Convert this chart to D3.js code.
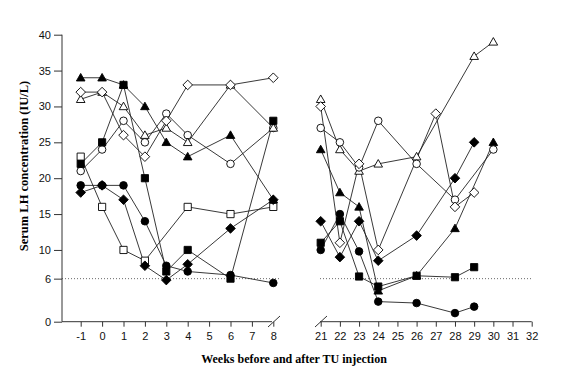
<!DOCTYPE html>
<html><head><meta charset="utf-8">
<script src="https://cdn.jsdelivr.net/npm/d3@7"></script>
<style>body{margin:0;background:#fff;}svg{display:block;}</style>
</head><body>
<svg id="c" width="567" height="375"></svg>
<script>
// ---- data ----
const leftTicks = [-1,0,1,2,3,4,5,6,7,8];
const rightTicks = [21,22,23,24,25,26,27,28,29,30,31,32];
const yTicks = [0,6,10,15,20,25,30,35,40];
const limitValue = 6;

// left panel (weeks -1..8)
const L_filledTriangle_w = [-1,0,1,2,3,4,6,8];
const L_filledTriangle_v = [34,34,33,30,25,23,26,17];
const L_openTriangle_w = [-1,0,1,2,3,4,6,8];
const L_openTriangle_v = [31,32,30,26,27,25,33,27];
const L_openDiamond_w = [-1,0,1,2,3,4,6,8];
const L_openDiamond_v = [32,32,26,23,28,33,33,34];
const L_openCircle_w = [-1,0,1,2,3,4,6,8];
const L_openCircle_v = [21,24,28,25,29,26,22,27];
const L_filledSquare_w = [-1,0,1,2,3,4,6,8];
const L_filledSquare_v = [22,25,33,20,7,10,6,28];
const L_openSquare_w = [-1,0,1,2,4,6,8];
const L_openSquare_v = [23,16,10,8.5,16,15,16];
const L_filledCircle_w = [-1,0,1,2,3,4,6,8];
const L_filledCircle_v = [19,19,19,14,7.8,7,6.5,5.4];
const L_filledDiamond_w = [-1,0,1,2,3,4,6,8];
const L_filledDiamond_v = [18,19,17,7.8,5.8,8,13,17];

// right panel (weeks 21..32)
const R_filledTriangle_w = [21,22,23,24,26,28,30];
const R_filledTriangle_v = [24,18,16,4.3,6.4,13,25];
const R_openTriangle_w = [21,22,23,24,26,29,30];
const R_openTriangle_v = [31,24,21,22,23,37,39];
const R_openDiamond_w = [21,22,23,24,27,28,29];
const R_openDiamond_v = [30,11,22,10,29,16,18];
const R_openCircle_w = [21,22,23,24,26,28,30];
const R_openCircle_v = [27,25,21.5,28,22,17,24];
const R_filledSquare_w = [21,22,23,24,26,28,29];
const R_filledSquare_v = [11,14,6.3,4.9,6.4,6.2,7.6];
const R_filledCircle_w = [21,22,23,24,26,28,29];
const R_filledCircle_v = [10,15,9.8,2.8,2.6,1.2,2.1];
const R_filledDiamond_w = [21,22,23,24,26,28,29];
const R_filledDiamond_v = [14,9,14,8.5,12,20,25];

const yLabel = "Serum LH concentration (IU/L)";
const xLabel = "Weeks before and after TU injection";

// ---- build ----
const svg = d3.select("#c");
const y = d3.scaleLinear().domain([0,40]).range([321.7,34.7]);
const xL = d3.scaleLinear().domain([-1,8]).range([80.7,273.3]);
const xR = d3.scaleLinear().domain([21,32]).range([320.7,531.7]);

const mk = (shape, filled, w, v) => ({shape, filled, pts: w.map((d,i)=>[d,v[i]])});
const leftSeries = [
  mk("circle",false,L_openCircle_w,L_openCircle_v),
  mk("triangle",false,L_openTriangle_w,L_openTriangle_v),
  mk("square",false,L_openSquare_w,L_openSquare_v),
  mk("triangle",true,L_filledTriangle_w,L_filledTriangle_v),
  mk("diamond",false,L_openDiamond_w,L_openDiamond_v),
  mk("circle",true,L_filledCircle_w,L_filledCircle_v),
  mk("diamond",true,L_filledDiamond_w,L_filledDiamond_v),
  mk("square",true,L_filledSquare_w,L_filledSquare_v)
];
const rightSeries = [
  mk("triangle",true,R_filledTriangle_w,R_filledTriangle_v),
  mk("triangle",false,R_openTriangle_w,R_openTriangle_v),
  mk("circle",false,R_openCircle_w,R_openCircle_v),
  mk("diamond",false,R_openDiamond_w,R_openDiamond_v),
  mk("circle",true,R_filledCircle_w,R_filledCircle_v),
  mk("diamond",true,R_filledDiamond_w,R_filledDiamond_v),
  mk("square",true,R_filledSquare_w,R_filledSquare_v)
];

function shapePath(s){
  if(s==="circle"){ const r=3.8; return `M${-r},0a${r},${r} 0 1,0 ${2*r},0a${r},${r} 0 1,0 ${-2*r},0Z`; }
  if(s==="square"){ const h=3.6; return `M${-h},${-h}H${h}V${h}H${-h}Z`; }
  if(s==="diamond"){ const h=4.8; return `M0,${-h}L${h},0L0,${h}L${-h},0Z`; }
  if(s==="triangle"){ const h=4.3; return `M0,${-h}L${h},${h*0.75}L${-h},${h*0.75}Z`; }
}

// dotted reference lines
svg.append("line").attr("x1",62).attr("x2",280).attr("y1",y(limitValue)).attr("y2",y(limitValue))
  .attr("stroke","#444").attr("stroke-width",0.8).attr("stroke-dasharray","1,2");
svg.append("line").attr("x1",320).attr("x2",532).attr("y1",y(limitValue)).attr("y2",y(limitValue))
  .attr("stroke","#444").attr("stroke-width",0.8).attr("stroke-dasharray","1,2");

function drawPanel(xs, series){
  const g = svg.append("g");
  const line = d3.line().x(d=>xs(d[0])).y(d=>y(d[1]));
  series.forEach(s=>{
    g.append("path").attr("d",line(s.pts)).attr("fill","none").attr("stroke","#222").attr("stroke-width",0.9);
  });
  series.forEach(s=>{
    g.selectAll(null).data(s.pts).enter().append("path")
      .attr("d",shapePath(s.shape))
      .attr("transform",d=>`translate(${xs(d[0])},${y(d[1])})`)
      .attr("fill",s.filled?"#000":"#fff").attr("stroke","#000").attr("stroke-width",0.9);
  });
}
drawPanel(xL,leftSeries);
drawPanel(xR,rightSeries);

const fmt = d => String(d);
const axisStyle = g => {
  g.selectAll(".domain").remove();
  g.selectAll("line").attr("stroke","#333").attr("stroke-width",1);
  g.selectAll("text").attr("font-family","'Liberation Sans',Arial,sans-serif").attr("font-size","11px").attr("fill","#111");
};

// y axis
const gy = svg.append("g").attr("transform","translate(62,0)")
  .call(d3.axisLeft(y).tickValues(yTicks).tickSize(8).tickPadding(3).tickFormat(fmt));
axisStyle(gy);
svg.append("line").attr("x1",62).attr("x2",62).attr("y1",y(40)).attr("y2",y(0)).attr("stroke","#333").attr("stroke-width",1);

// x axes
const gxl = svg.append("g").attr("transform",`translate(0,${y(0)})`)
  .call(d3.axisBottom(xL).tickValues(leftTicks).tickSize(5).tickPadding(6).tickFormat(fmt));
axisStyle(gxl);
const gxr = svg.append("g").attr("transform",`translate(0,${y(0)})`)
  .call(d3.axisBottom(xR).tickValues(rightTicks).tickSize(5).tickPadding(6).tickFormat(fmt));
axisStyle(gxr);
svg.append("line").attr("x1",62).attr("x2",272).attr("y1",y(0)).attr("y2",y(0)).attr("stroke","#333").attr("stroke-width",1);
svg.append("line").attr("x1",320).attr("x2",xR(32)).attr("y1",y(0)).attr("y2",y(0)).attr("stroke","#333").attr("stroke-width",1);
// break marks
svg.append("line").attr("x1",268).attr("y1",327).attr("x2",280).attr("y2",316).attr("stroke","#333").attr("stroke-width",1);
svg.append("line").attr("x1",315).attr("y1",327).attr("x2",327).attr("y2",316).attr("stroke","#333").attr("stroke-width",1);

// labels
svg.append("text").attr("transform","translate(28,166) rotate(-90)").attr("text-anchor","middle")
  .attr("font-family","'Liberation Serif','Times New Roman',serif").attr("font-weight","bold").attr("font-size","12.5px")
  .text(yLabel);
svg.append("text").attr("x",294).attr("y",363).attr("text-anchor","middle")
  .attr("font-family","'Liberation Serif','Times New Roman',serif").attr("font-weight","bold").attr("font-size","12px")
  .text(xLabel);
</script>
</body></html>
